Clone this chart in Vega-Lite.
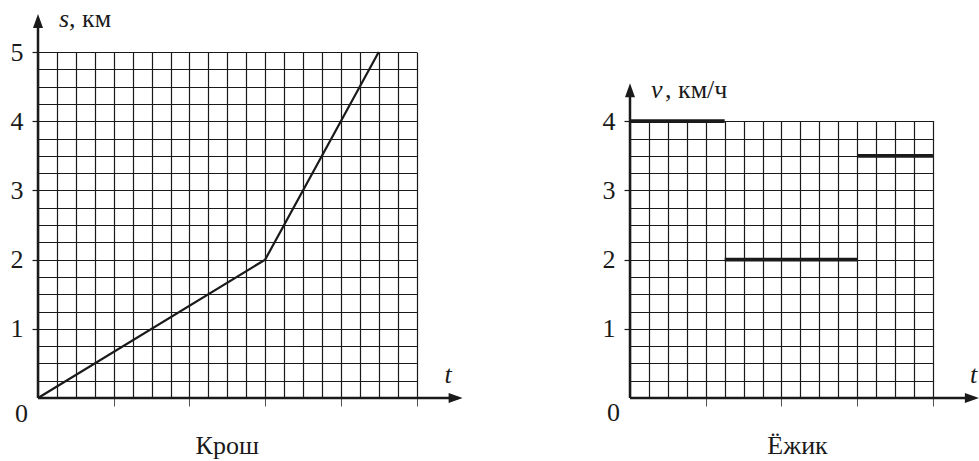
{
  "$schema": "https://vega.github.io/schema/vega-lite/v6.json",
  "background": "white",
  "padding": {"left": 10, "top": 5, "right": 0, "bottom": 0},
  "config": {
    "view": {"stroke": null},
    "font": "Liberation Serif",
    "text": {"font": "Liberation Serif", "fontSize": 26, "color": "#1a1a1a"},
    "axis": {"labelFont": "Liberation Serif", "labelFontSize": 26, "labelColor": "#1a1a1a", "title": null}
  },
  "datasets": {
    "krosh": [{"t": 0, "s": 0}, {"t": 12, "s": 2}, {"t": 18, "s": 5}],
    "ezhik": [{"t0": 0, "t1": 5, "v": 4}, {"t0": 5, "t1": 12, "v": 2}, {"t0": 12, "t1": 16, "v": 3.5}],
    "one": [{}]
  },
  "bounds": "flush",
  "spacing": 213,
  "hconcat": [
    {
      "width": 378.6,
      "height": 346,
      "resolve": {"axis": {"x": "independent", "y": "independent"}},
      "layer": [
        {
          "data": {"name": "krosh"},
          "mark": {"type": "line", "stroke": "#1a1a1a", "strokeWidth": 2.2},
          "encoding": {
            "x": {"field": "t", "type": "quantitative", "scale": {"domain": [0, 20], "nice": false, "zero": false},
              "axis": {"orient": "bottom", "values": [0,1,2,3,4,5,6,7,8,9,10,11,12,13,14,15,16,17,18,19,20], "grid": true, "gridColor": "#1a1a1a", "gridWidth": 1.2, "ticks": false, "labels": false, "domain": false, "title": null}},
            "y": {"field": "s", "type": "quantitative", "scale": {"domain": [0, 5], "nice": false, "zero": false},
              "axis": {"orient": "left", "values": [0,0.25,0.5,0.75,1,1.25,1.5,1.75,2,2.25,2.5,2.75,3,3.25,3.5,3.75,4,4.25,4.5,4.75,5], "grid": true, "gridColor": "#1a1a1a", "gridWidth": 1.2, "ticks": false, "labels": false, "domain": false, "title": null}}
          }
        },
        {
          "data": {"name": "one"},
          "mark": {"type": "rule", "stroke": "#1a1a1a", "strokeWidth": 2.5},
          "encoding": {
            "x": {"datum": 0, "type": "quantitative", "scale": {"domain": [0, 20], "nice": false, "zero": false},
              "axis": {"orient": "bottom", "values": [4, 8, 12, 16, 20], "ticks": true, "tickSize": 8, "tickColor": "#555555", "tickWidth": 1, "labels": false, "domain": false, "grid": false, "title": null}},
            "x2": {"datum": 22.2},
            "y": {"datum": 0, "type": "quantitative", "scale": {"domain": [0, 5], "nice": false, "zero": false},
              "axis": {"orient": "left", "values": [1, 2, 3, 4, 5], "ticks": true, "tickSize": 6, "tickColor": "#1a1a1a", "tickWidth": 1.2, "labels": true, "labelFont": "Liberation Serif", "labelFontSize": 26, "labelColor": "#1a1a1a", "labelPadding": 9, "domain": false, "grid": false, "title": null}}
          }
        },
        {
          "data": {"name": "one"},
          "mark": {"type": "rule", "stroke": "#1a1a1a", "strokeWidth": 2.5},
          "encoding": {
            "x": {"datum": 0, "type": "quantitative", "scale": {"domain": [0, 20], "nice": false, "zero": false}, "axis": null},
            "y": {"datum": 0, "type": "quantitative", "scale": {"domain": [0, 5], "nice": false, "zero": false}, "axis": null},
            "y2": {"datum": 5.45}
          }
        },
        {
          "data": {"name": "one"},
          "mark": {"type": "point", "shape": "M0,0L-0.5,1.4L0.5,1.4Z", "size": 400, "filled": true, "color": "#1a1a1a", "opacity": 1, "strokeWidth": 0},
          "encoding": {
            "x": {"datum": 0, "type": "quantitative", "scale": {"domain": [0, 20], "nice": false, "zero": false}, "axis": null},
            "y": {"datum": 5.55, "type": "quantitative", "scale": {"domain": [0, 5], "nice": false, "zero": false}, "axis": null}
          }
        },
        {
          "data": {"name": "one"},
          "mark": {"type": "point", "shape": "M0,0L-1.4,-0.5L-1.4,0.5Z", "size": 400, "filled": true, "color": "#1a1a1a", "opacity": 1, "strokeWidth": 0},
          "encoding": {
            "x": {"datum": 22.43, "type": "quantitative", "scale": {"domain": [0, 20], "nice": false, "zero": false}, "axis": null},
            "y": {"datum": 0, "type": "quantitative", "scale": {"domain": [0, 5], "nice": false, "zero": false}, "axis": null}
          }
        },
        {
          "data": {"name": "one"},
          "mark": {"type": "text", "text": "s", "font": "Liberation Serif", "fontSize": 26, "fontStyle": "italic", "align": "left", "baseline": "alphabetic", "dx": 21},
          "encoding": {
            "x": {"datum": 0, "type": "quantitative", "scale": {"domain": [0, 20], "nice": false, "zero": false}, "axis": null},
            "y": {"datum": 5.365, "type": "quantitative", "scale": {"domain": [0, 5], "nice": false, "zero": false}, "axis": null}
          }
        },
        {
          "data": {"name": "one"},
          "mark": {"type": "text", "text": ", км", "font": "Liberation Serif", "fontSize": 26, "align": "left", "baseline": "alphabetic", "dx": 31},
          "encoding": {
            "x": {"datum": 0, "type": "quantitative", "scale": {"domain": [0, 20], "nice": false, "zero": false}, "axis": null},
            "y": {"datum": 5.365, "type": "quantitative", "scale": {"domain": [0, 5], "nice": false, "zero": false}, "axis": null}
          }
        },
        {
          "data": {"name": "one"},
          "mark": {"type": "text", "text": "t", "font": "Liberation Serif", "fontSize": 26, "fontStyle": "italic", "align": "left", "baseline": "alphabetic", "dx": 28},
          "encoding": {
            "x": {"datum": 20, "type": "quantitative", "scale": {"domain": [0, 20], "nice": false, "zero": false}, "axis": null},
            "y": {"datum": 0.22, "type": "quantitative", "scale": {"domain": [0, 5], "nice": false, "zero": false}, "axis": null}
          }
        },
        {
          "data": {"name": "one"},
          "mark": {"type": "text", "text": "0", "font": "Liberation Serif", "fontSize": 26, "align": "right", "baseline": "alphabetic", "dx": -10},
          "encoding": {
            "x": {"datum": 0, "type": "quantitative", "scale": {"domain": [0, 20], "nice": false, "zero": false}, "axis": null},
            "y": {"datum": -0.347, "type": "quantitative", "scale": {"domain": [0, 5], "nice": false, "zero": false}, "axis": null}
          }
        },
        {
          "data": {"name": "one"},
          "mark": {"type": "text", "text": "Крош", "font": "Liberation Serif", "fontSize": 26, "align": "center", "baseline": "alphabetic"},
          "encoding": {
            "x": {"datum": 10, "type": "quantitative", "scale": {"domain": [0, 20], "nice": false, "zero": false}, "axis": null},
            "y": {"datum": -0.81, "type": "quantitative", "scale": {"domain": [0, 5], "nice": false, "zero": false}, "axis": null}
          }
        }
      ]
    },
    {
      "width": 302.9,
      "height": 346,
      "resolve": {"axis": {"x": "independent", "y": "independent"}},
      "layer": [
        {
          "data": {"name": "ezhik"},
          "mark": {"type": "rule", "stroke": "#1a1a1a", "strokeWidth": 3.8},
          "encoding": {
            "x": {"field": "t0", "type": "quantitative", "scale": {"domain": [0, 16], "nice": false, "zero": false},
              "axis": {"orient": "bottom", "values": [0,1,2,3,4,5,6,7,8,9,10,11,12,13,14,15,16], "grid": true, "gridColor": "#1a1a1a", "gridWidth": 1.2, "gridDash": [280, 200], "gridDashOffset": 411.4, "ticks": false, "labels": false, "domain": false, "title": null}},
            "x2": {"field": "t1"},
            "y": {"field": "v", "type": "quantitative", "scale": {"domain": [0, 5], "nice": false, "zero": false},
              "axis": {"orient": "left", "values": [0,0.25,0.5,0.75,1,1.25,1.5,1.75,2,2.25,2.5,2.75,3,3.25,3.5,3.75,4], "grid": true, "gridColor": "#1a1a1a", "gridWidth": 1.2, "ticks": false, "labels": false, "domain": false, "title": null}}
          }
        },
        {
          "data": {"name": "one"},
          "mark": {"type": "rule", "stroke": "#1a1a1a", "strokeWidth": 2.5},
          "encoding": {
            "x": {"datum": 0, "type": "quantitative", "scale": {"domain": [0, 16], "nice": false, "zero": false},
              "axis": {"orient": "bottom", "values": [4, 8, 12, 16], "ticks": true, "tickSize": 8, "tickColor": "#555555", "tickWidth": 1, "labels": false, "domain": false, "grid": false, "title": null}},
            "x2": {"datum": 18.2},
            "y": {"datum": 0, "type": "quantitative", "scale": {"domain": [0, 5], "nice": false, "zero": false},
              "axis": {"orient": "left", "values": [1, 2, 3, 4], "ticks": true, "tickSize": 6, "tickColor": "#1a1a1a", "tickWidth": 1.2, "labels": true, "labelFont": "Liberation Serif", "labelFontSize": 26, "labelColor": "#1a1a1a", "labelPadding": 9, "domain": false, "grid": false, "title": null}}
          }
        },
        {
          "data": {"name": "one"},
          "mark": {"type": "rule", "stroke": "#1a1a1a", "strokeWidth": 2.5},
          "encoding": {
            "x": {"datum": 0, "type": "quantitative", "scale": {"domain": [0, 16], "nice": false, "zero": false}, "axis": null},
            "y": {"datum": 0, "type": "quantitative", "scale": {"domain": [0, 5], "nice": false, "zero": false}, "axis": null},
            "y2": {"datum": 4.45}
          }
        },
        {
          "data": {"name": "one"},
          "mark": {"type": "point", "shape": "M0,0L-0.5,1.4L0.5,1.4Z", "size": 400, "filled": true, "color": "#1a1a1a", "opacity": 1, "strokeWidth": 0},
          "encoding": {
            "x": {"datum": 0, "type": "quantitative", "scale": {"domain": [0, 16], "nice": false, "zero": false}, "axis": null},
            "y": {"datum": 4.55, "type": "quantitative", "scale": {"domain": [0, 5], "nice": false, "zero": false}, "axis": null}
          }
        },
        {
          "data": {"name": "one"},
          "mark": {"type": "point", "shape": "M0,0L-1.4,-0.5L-1.4,0.5Z", "size": 400, "filled": true, "color": "#1a1a1a", "opacity": 1, "strokeWidth": 0},
          "encoding": {
            "x": {"datum": 18.43, "type": "quantitative", "scale": {"domain": [0, 16], "nice": false, "zero": false}, "axis": null},
            "y": {"datum": 0, "type": "quantitative", "scale": {"domain": [0, 5], "nice": false, "zero": false}, "axis": null}
          }
        },
        {
          "data": {"name": "one"},
          "mark": {"type": "text", "text": "v", "font": "Liberation Serif", "fontSize": 26, "fontStyle": "italic", "align": "left", "baseline": "alphabetic", "dx": 21},
          "encoding": {
            "x": {"datum": 0, "type": "quantitative", "scale": {"domain": [0, 16], "nice": false, "zero": false}, "axis": null},
            "y": {"datum": 4.33, "type": "quantitative", "scale": {"domain": [0, 5], "nice": false, "zero": false}, "axis": null}
          }
        },
        {
          "data": {"name": "one"},
          "mark": {"type": "text", "text": ", км/ч", "font": "Liberation Serif", "fontSize": 26, "align": "left", "baseline": "alphabetic", "dx": 35},
          "encoding": {
            "x": {"datum": 0, "type": "quantitative", "scale": {"domain": [0, 16], "nice": false, "zero": false}, "axis": null},
            "y": {"datum": 4.33, "type": "quantitative", "scale": {"domain": [0, 5], "nice": false, "zero": false}, "axis": null}
          }
        },
        {
          "data": {"name": "one"},
          "mark": {"type": "text", "text": "t", "font": "Liberation Serif", "fontSize": 26, "fontStyle": "italic", "align": "left", "baseline": "alphabetic", "dx": 37},
          "encoding": {
            "x": {"datum": 16, "type": "quantitative", "scale": {"domain": [0, 16], "nice": false, "zero": false}, "axis": null},
            "y": {"datum": 0.22, "type": "quantitative", "scale": {"domain": [0, 5], "nice": false, "zero": false}, "axis": null}
          }
        },
        {
          "data": {"name": "one"},
          "mark": {"type": "text", "text": "0", "font": "Liberation Serif", "fontSize": 26, "align": "right", "baseline": "alphabetic", "dx": -10},
          "encoding": {
            "x": {"datum": 0, "type": "quantitative", "scale": {"domain": [0, 16], "nice": false, "zero": false}, "axis": null},
            "y": {"datum": -0.33, "type": "quantitative", "scale": {"domain": [0, 5], "nice": false, "zero": false}, "axis": null}
          }
        },
        {
          "data": {"name": "one"},
          "mark": {"type": "text", "text": "Ёжик", "font": "Liberation Serif", "fontSize": 26, "align": "center", "baseline": "alphabetic"},
          "encoding": {
            "x": {"datum": 8.85, "type": "quantitative", "scale": {"domain": [0, 16], "nice": false, "zero": false}, "axis": null},
            "y": {"datum": -0.81, "type": "quantitative", "scale": {"domain": [0, 5], "nice": false, "zero": false}, "axis": null}
          }
        }
      ]
    }
  ]
}
